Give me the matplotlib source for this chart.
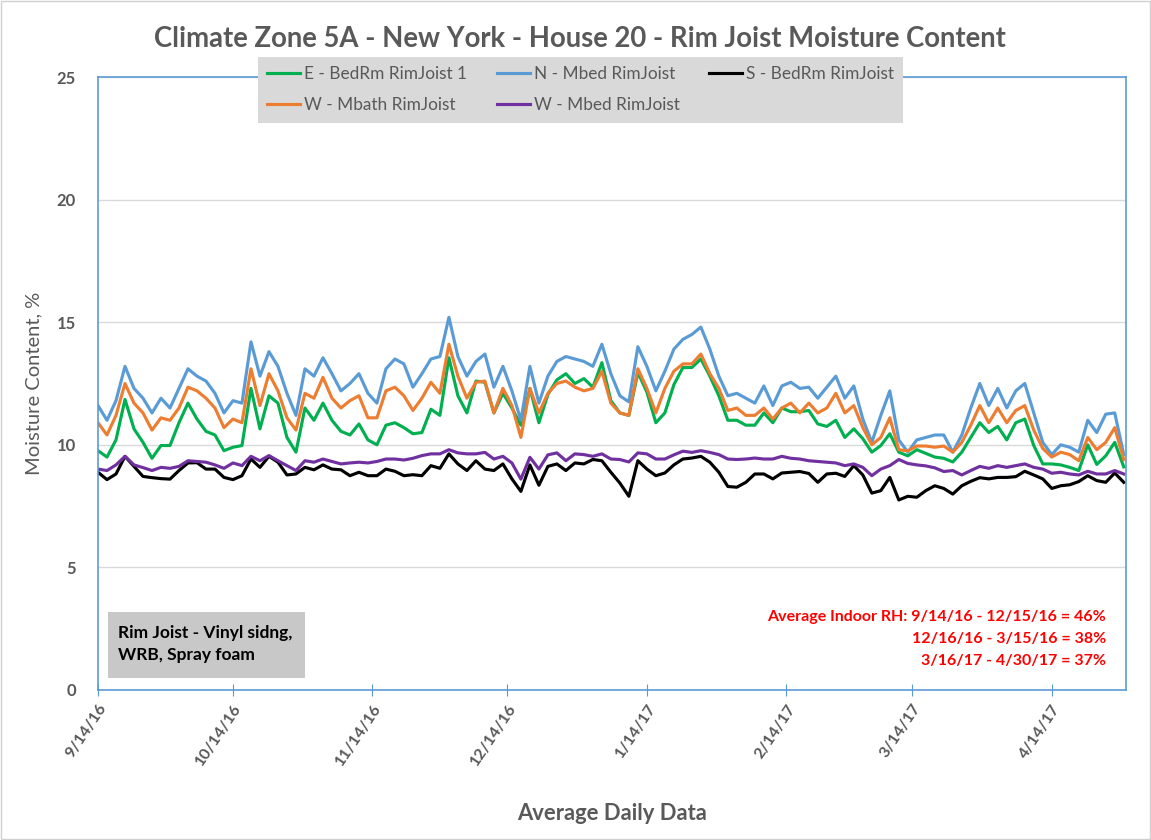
import matplotlib
matplotlib.use("Agg")
import matplotlib.pyplot as plt
import matplotlib.dates as mdates
from matplotlib.patches import Rectangle
import pandas as pd

# average daily readings, every second day from 9/14/16 to 4/30/17
dates = pd.date_range("2016-09-14", "2017-04-30", freq="2D")

e_bedrm_1 = [
    9.76, 9.5, 10.2, 11.85, 10.65, 10.1, 9.45, 9.97, 9.97, 10.9,
    11.7, 11.05, 10.55, 10.4, 9.76, 9.9, 9.97, 12.3, 10.65, 12.0,
    11.7, 10.3, 9.7, 11.5, 11.0, 11.7, 11.0, 10.55, 10.4, 10.85,
    10.2, 10.0, 10.8, 10.9, 10.7, 10.45, 10.5, 11.45, 11.2, 13.55,
    12.0, 11.3, 12.6, 12.55, 11.3, 12.1, 11.5, 10.8, 12.3, 10.9,
    12.05, 12.65, 12.9, 12.5, 12.7, 12.35, 13.35, 11.8, 11.3, 11.2,
    12.95, 12.15, 10.9, 11.3, 12.45, 13.15, 13.15, 13.5, 12.8, 12.0,
    11.0, 11.0, 10.8, 10.8, 11.3, 10.9, 11.5, 11.35, 11.35, 11.4,
    10.85, 10.75, 11.0, 10.3, 10.65, 10.25, 9.7, 9.97, 10.45, 9.7,
    9.55, 9.8, 9.65, 9.5, 9.45, 9.3, 9.7, 10.3, 10.9, 10.5,
    10.75, 10.2, 10.9, 11.05, 9.97, 9.22, 9.22, 9.18, 9.08, 8.95,
    10.0, 9.2, 9.55, 10.1, 9.1,
]
n_mbed = [
    11.6, 11.0, 11.8, 13.2, 12.3, 11.9, 11.3, 11.9, 11.5, 12.3,
    13.1, 12.8, 12.6, 12.1, 11.3, 11.8, 11.7, 14.2, 12.8, 13.8,
    13.2, 12.1, 11.2, 13.1, 12.8, 13.55, 12.9, 12.2, 12.5, 12.9,
    12.1, 11.7, 13.1, 13.5, 13.3, 12.35, 12.9, 13.5, 13.6, 15.2,
    13.6, 12.8, 13.4, 13.7, 12.35, 13.2, 12.2, 11.0, 13.2, 11.7,
    12.8, 13.4, 13.6, 13.5, 13.4, 13.2, 14.1, 12.9, 12.0, 11.75,
    14.0, 13.2, 12.2, 13.0, 13.9, 14.3, 14.5, 14.8, 13.9, 12.8,
    12.0, 12.1, 11.9, 11.7, 12.4, 11.6, 12.4, 12.55, 12.3, 12.35,
    11.9, 12.35, 12.8, 11.9, 12.4, 11.05, 10.1, 11.2, 12.2, 10.2,
    9.7, 10.2, 10.3, 10.4, 10.4, 9.7, 10.4, 11.5, 12.5, 11.6,
    12.3, 11.5, 12.2, 12.5, 11.3, 10.1, 9.6, 10.0, 9.9, 9.7,
    11.0, 10.5, 11.25, 11.3, 9.6,
]
s_bedrm = [
    8.88, 8.58, 8.81, 9.53, 9.12, 8.71, 8.66, 8.62, 8.6, 8.95,
    9.26, 9.27, 9.01, 9.01, 8.67, 8.58, 8.74, 9.42, 9.08, 9.53,
    9.29, 8.77, 8.81, 9.08, 8.98, 9.18, 9.01, 8.98, 8.74, 8.88,
    8.74, 8.74, 9.01, 8.92, 8.74, 8.78, 8.74, 9.15, 9.04, 9.63,
    9.22, 8.95, 9.35, 9.01, 8.95, 9.22, 8.61, 8.1, 9.18, 8.35,
    9.12, 9.22, 8.95, 9.26, 9.22, 9.4, 9.35, 8.88, 8.44, 7.9,
    9.35, 9.01, 8.74, 8.85, 9.18, 9.42, 9.46, 9.53, 9.29, 8.88,
    8.3, 8.27, 8.47, 8.81, 8.81, 8.61, 8.85, 8.88, 8.91, 8.83,
    8.47, 8.81, 8.84, 8.71, 9.15, 8.77, 8.03, 8.13, 8.67, 7.75,
    7.9, 7.86, 8.13, 8.33, 8.22, 7.99, 8.33, 8.51, 8.66, 8.61,
    8.67, 8.67, 8.7, 8.92, 8.77, 8.61, 8.22, 8.33, 8.37, 8.5,
    8.74, 8.54, 8.47, 8.85, 8.47,
]
w_mbath = [
    10.9, 10.4, 11.2, 12.5, 11.7, 11.3, 10.6, 11.1, 11.0, 11.5,
    12.35, 12.2, 11.9, 11.5, 10.7, 11.05, 10.9, 13.1, 11.6, 12.9,
    12.2, 11.1, 10.6, 12.1, 11.9, 12.75, 11.9, 11.5, 11.8, 12.0,
    11.1, 11.1, 12.2, 12.35, 12.0, 11.4, 11.9, 12.55, 12.1, 14.1,
    12.8, 11.9, 12.55, 12.6, 11.3, 12.3, 11.6, 10.3, 12.3, 11.3,
    12.1, 12.5, 12.6, 12.35, 12.2, 12.3, 13.0, 11.7, 11.3, 11.2,
    13.1, 12.3, 11.3, 12.3, 13.0, 13.3, 13.3, 13.7, 12.9, 12.3,
    11.4, 11.5, 11.2, 11.2, 11.5, 11.05, 11.5, 11.7, 11.3, 11.7,
    11.3, 11.5, 12.1, 11.3, 11.6, 10.7, 10.0, 10.3, 11.1, 9.8,
    9.75, 9.95, 9.95, 9.9, 9.95, 9.7, 10.1, 10.8, 11.6, 10.9,
    11.5, 10.9, 11.4, 11.6, 10.6, 9.85, 9.5, 9.7, 9.6, 9.35,
    10.3, 9.8, 10.1, 10.7, 9.4,
]
w_mbed = [
    9.01, 8.95, 9.18, 9.53, 9.18, 9.07, 8.95, 9.08, 9.04, 9.12,
    9.35, 9.32, 9.29, 9.18, 9.04, 9.26, 9.15, 9.53, 9.35, 9.56,
    9.35, 9.15, 8.95, 9.35, 9.29, 9.42, 9.32, 9.22, 9.26, 9.29,
    9.26, 9.32, 9.42, 9.42, 9.38, 9.45, 9.56, 9.63, 9.63, 9.8,
    9.67, 9.63, 9.63, 9.69, 9.42, 9.53, 9.26, 8.6, 9.49, 9.01,
    9.59, 9.67, 9.35, 9.63, 9.6, 9.53, 9.63, 9.42, 9.4, 9.3,
    9.67, 9.63, 9.42, 9.42, 9.59, 9.74, 9.69, 9.76, 9.69, 9.6,
    9.42, 9.4, 9.42, 9.46, 9.42, 9.42, 9.53, 9.45, 9.42, 9.35,
    9.32, 9.29, 9.26, 9.15, 9.22, 9.08, 8.74, 9.01, 9.15, 9.4,
    9.24, 9.18, 9.14, 9.06, 8.91, 8.95, 8.77, 8.95, 9.12, 9.04,
    9.15, 9.08, 9.15, 9.22, 9.08, 9.01, 8.84, 8.88, 8.81, 8.77,
    8.92, 8.81, 8.81, 8.95, 8.81,
]

tick_dates = ["2016-09-14", "2016-10-14", "2016-11-14", "2016-12-14",
              "2017-01-14", "2017-02-14", "2017-03-14", "2017-04-14"]
rh_notes = ["Average Indoor RH: 9/14/16 - 12/15/16 = 46%",
            "12/16/16 - 3/15/16 = 38%",
            "3/16/17 - 4/30/17 = 37%"]

plt.rcParams['font.family'] = ['Lato', 'DejaVu Sans']
gray = "#595959"
axis_blue = "#5B9BD5"

fig = plt.figure(figsize=(11.51, 8.40), dpi=100)
ax = fig.add_axes([98/1151, 1-690/840, 1028/1151, 613/840])

series = [
    (e_bedrm_1, "E - BedRm RimJoist 1", "#00B050"),
    (n_mbed, "N - Mbed RimJoist", "#5B9BD5"),
    (s_bedrm, "S - BedRm RimJoist", "#000000"),
    (w_mbath, "W - Mbath RimJoist", "#ED7D31"),
    (w_mbed, "W - Mbed RimJoist", "#7030A0"),
]
lines = {}
for vals, name, col in series:
    lines[name], = ax.plot(dates, vals, color=col, lw=2.25, label=name)

ax.set_ylim(0, 25)
ax.set_yticks(range(0, 26, 5))
ax.set_xlim(pd.Timestamp("2016-09-14"), pd.Timestamp("2017-04-30 12:00"))
ax.set_xticks(pd.to_datetime(tick_dates))
ax.xaxis.set_major_formatter(mdates.DateFormatter("%-m/%-d/%y"))
ax.grid(axis="y", color="#D9D9D9", lw=1)
ax.set_axisbelow(True)

for sp in ax.spines.values():
    sp.set_color(axis_blue)
    sp.set_linewidth(1.2)
ax.tick_params(axis="x", direction="inout", length=9, color=axis_blue, pad=4)
ax.tick_params(axis="y", length=0, pad=16)
for lbl in ax.get_yticklabels():
    lbl.set_fontsize(12)
    lbl.set_fontweight("bold")
    lbl.set_color(gray)
for lbl in ax.get_xticklabels():
    lbl.set_fontsize(11.5)
    lbl.set_fontweight("bold")
    lbl.set_color(gray)
    lbl.set_rotation(56)
    lbl.set_ha("right")
    lbl.set_rotation_mode("anchor")

ax.set_ylabel("Moisture Content, %", fontsize=14.5, color=gray)
ax.yaxis.set_label_coords(-0.054, 0.5)
ax.set_xlabel("Average Daily Data", fontsize=15.8, color=gray, fontweight="bold")
ax.xaxis.set_label_coords(0.5, -0.184)

fig.text(580/1151, 1-39/840, "Climate Zone 5A - New York - House 20 - Rim Joist Moisture Content",
         ha="center", va="center", fontsize=19.8, fontweight="bold", color=gray)

# legend in row order: E, N, S / W-Mbath, W-Mbed
order = ["E - BedRm RimJoist 1", "W - Mbath RimJoist", "N - Mbed RimJoist",
         "W - Mbed RimJoist", "S - BedRm RimJoist"]
leg = ax.legend([lines[k] for k in order], order, ncol=3, loc="upper left",
                bbox_to_anchor=(258/1151, 1-57/840), bbox_transform=fig.transFigure,
                fontsize=12.4, frameon=True, fancybox=False, handlelength=1.9,
                handletextpad=0.25, columnspacing=1.7, borderpad=0.55,
                labelspacing=0.85, borderaxespad=0)
leg.get_frame().set_facecolor("#D9D9D9")
leg.get_frame().set_edgecolor("none")
leg.get_frame().set_alpha(1)
for t in leg.get_texts():
    t.set_color(gray)

# construction note box
fig.patches.append(Rectangle((108/1151, 1-678/840), 197/1151, 66/840,
                             transform=fig.transFigure, facecolor="#C8C8C8",
                             edgecolor="none", zorder=5))
fig.text(118/1151, 1-644/840, "Rim Joist - Vinyl sidng,\nWRB, Spray foam",
         ha="left", va="center", fontsize=12.5, fontweight="bold",
         color="black", linespacing=1.4, zorder=6)

for i, note in enumerate(rh_notes):
    fig.text(1106/1151, 1-(617 + 22*i)/840, note, ha="right", va="center",
             fontsize=11.5, fontweight="bold", color="#FF0000")

fig.patches.append(Rectangle((0.001, 0.001), 0.998, 0.998, transform=fig.transFigure,
                             facecolor="none", edgecolor="#D0D0D0", lw=1))

fig.savefig("out.png", dpi=100)
